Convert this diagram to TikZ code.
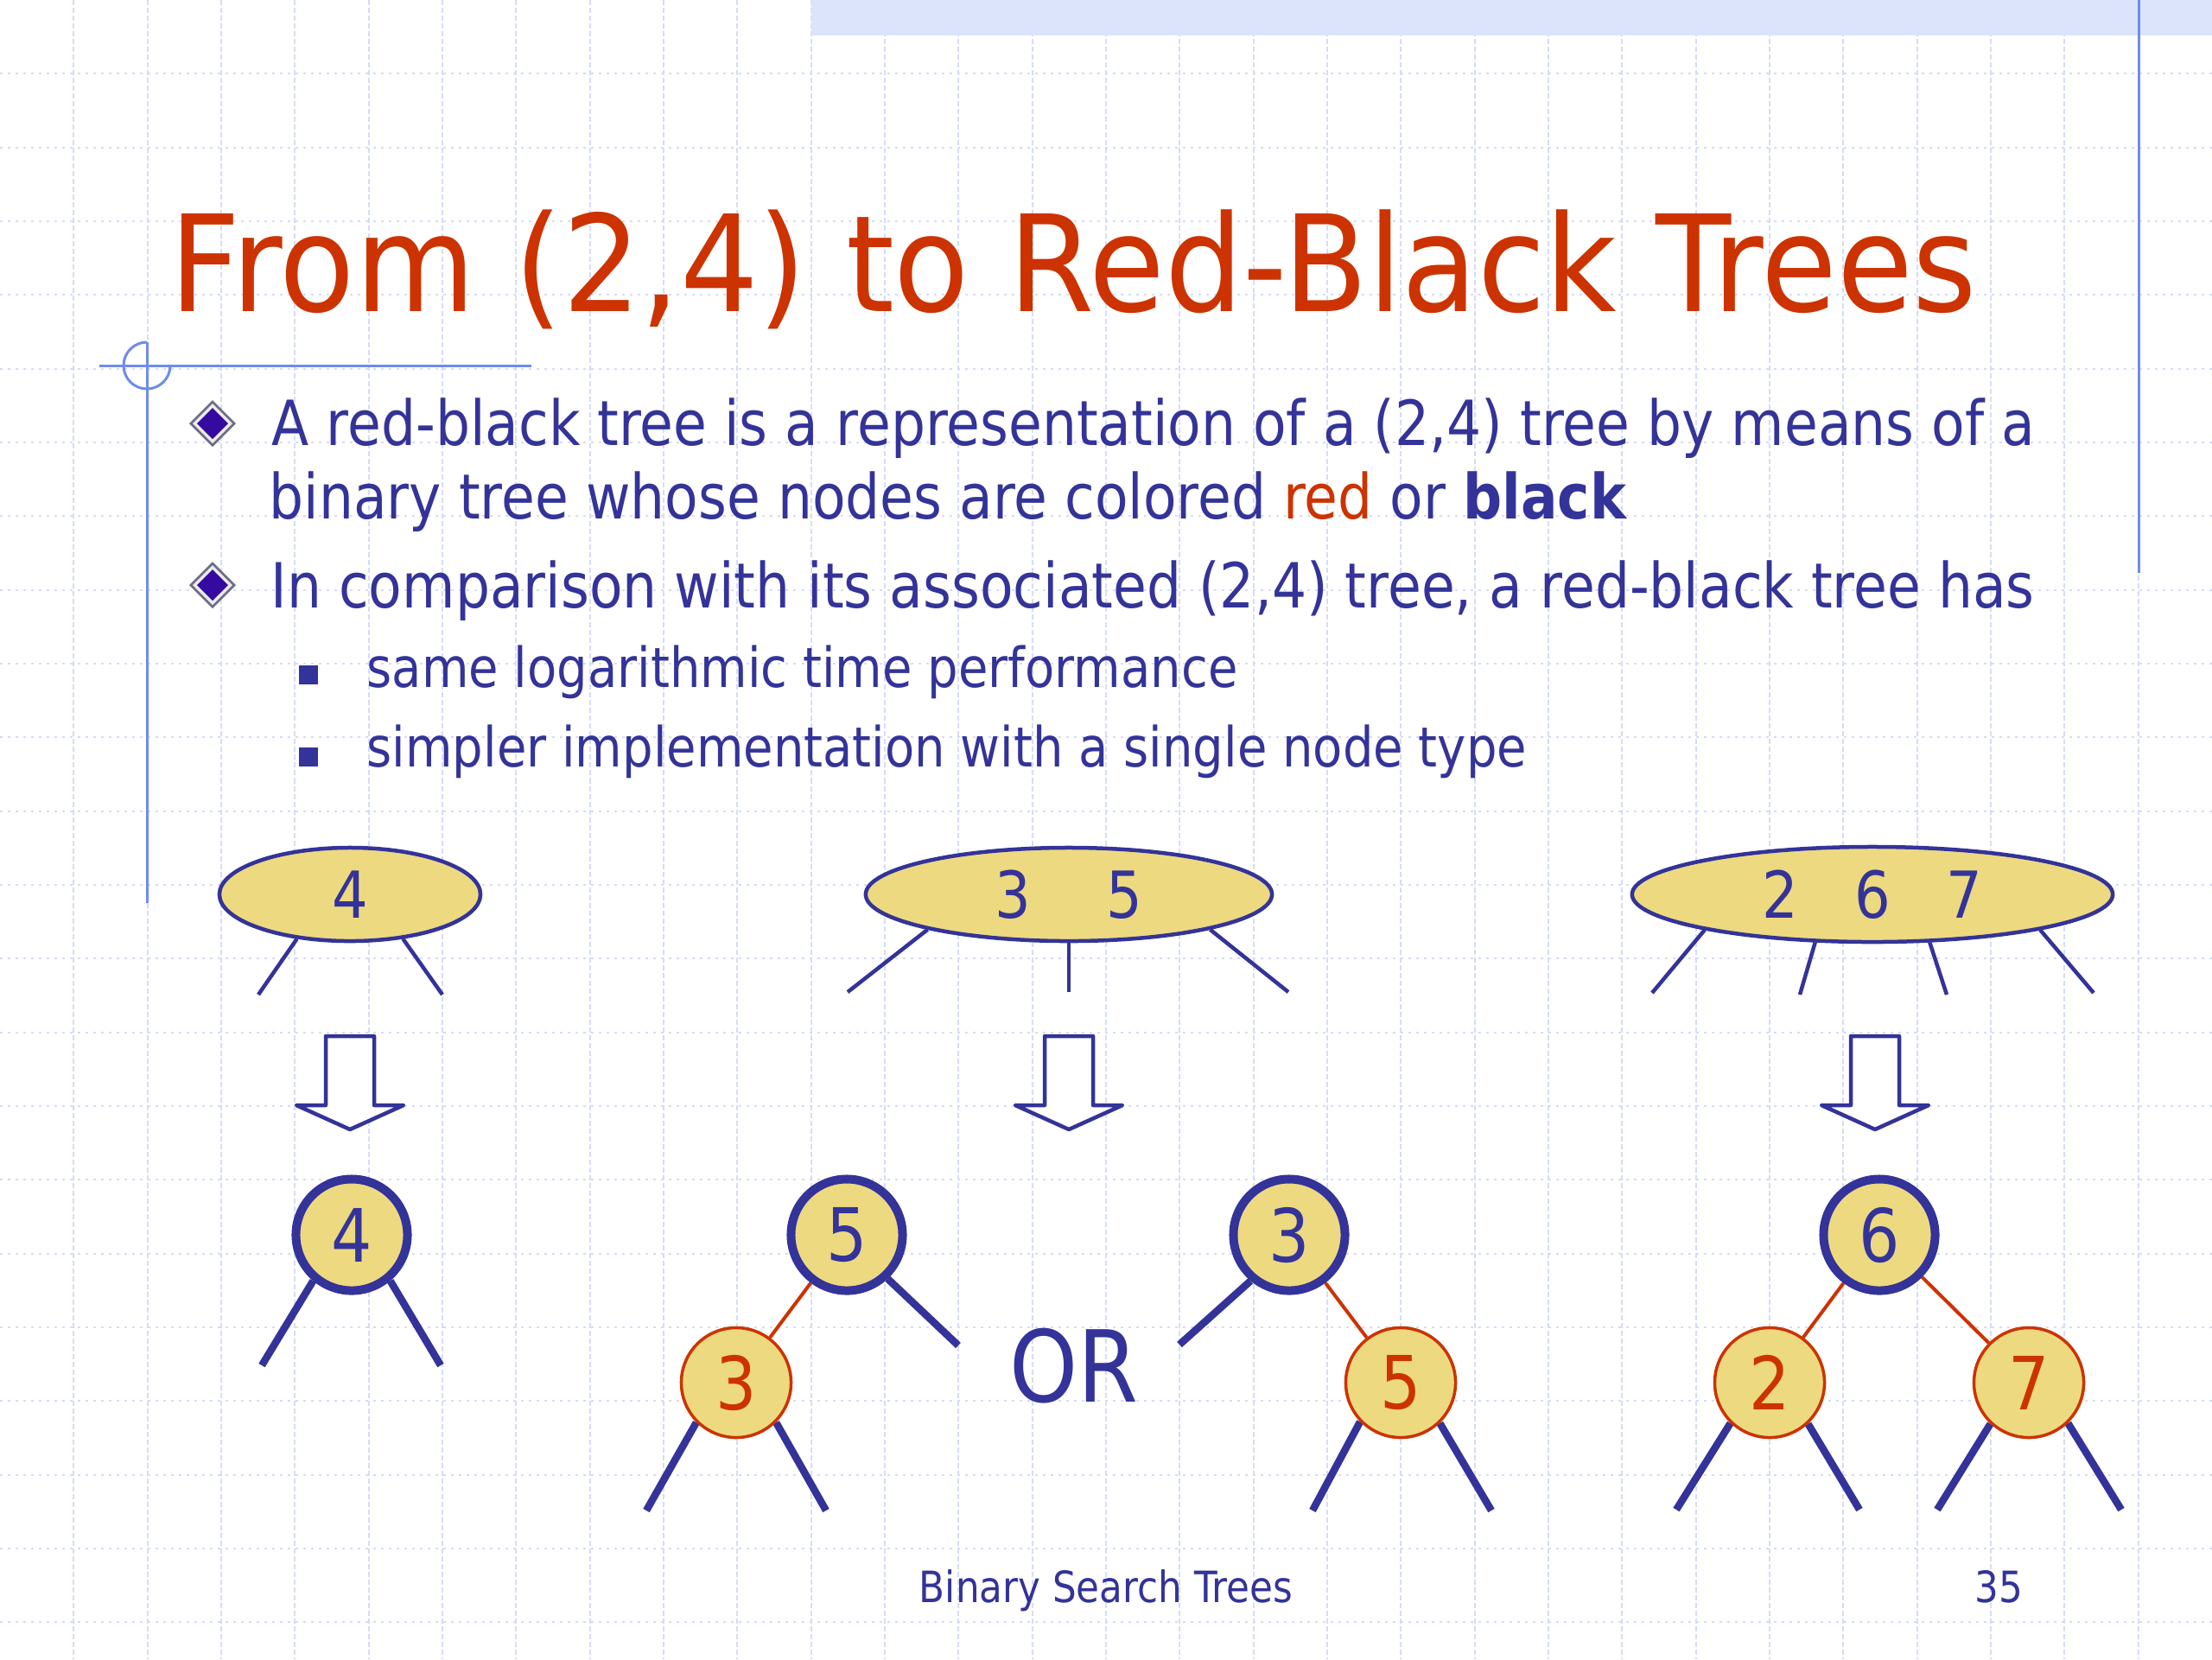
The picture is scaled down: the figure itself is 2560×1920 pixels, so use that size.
\documentclass[tikz,border=0pt]{standalone}
\usepackage{fontspec}
\setmainfont{DejaVu Sans}[FakeStretch=0.875]
\newfontfamily\titlefont{DejaVu Sans}[FakeStretch=0.92]
\usetikzlibrary{shapes.geometric}
\definecolor{rbblue}{RGB}{51,51,153}
\definecolor{rbred}{RGB}{204,51,0}
\definecolor{nodefill}{RGB}{237,217,128}
\definecolor{gridcol}{RGB}{214,220,247}
\definecolor{decoblue}{RGB}{110,140,235}
\definecolor{bandcol}{RGB}{220,228,251}
\definecolor{bulletpurple}{RGB}{52,10,160}
\pgfdeclarelayer{bg}\pgfdeclarelayer{edges}\pgfsetlayers{bg,edges,main}
\tikzset{
 bodytext/.style={anchor=base west, inner sep=0, text=rbblue, font=\fontsize{20.5pt}{24pt}\selectfont},
 subtext/.style={anchor=base west, inner sep=0, text=rbblue, font=\fontsize{18.2pt}{22pt}\selectfont},
 bnode/.style={circle, draw=rbblue, line width=0.1cm, fill=nodefill, minimum size=1.29cm, inner sep=0, text=rbblue, font=\fontsize{24.2pt}{28pt}\selectfont},
 rnode/.style={circle, draw=rbred, line width=0.035cm, fill=nodefill, minimum size=1.27cm, inner sep=0, text=rbred, font=\fontsize{24.2pt}{28pt}\selectfont},
 enode/.style={ellipse, draw=rbblue, line width=0.045cm, fill=nodefill, inner sep=0, minimum height=1.08cm, text=rbblue, font=\fontsize{21.3pt}{24pt}\selectfont},
 bleg/.style={draw=rbblue, line width=0.085cm},
 eleg/.style={draw=rbblue, line width=0.045cm},
 redge/.style={draw=rbred, line width=0.04cm},
 gridv/.style={gridcol, line width=0.02cm, dash pattern=on 0.06cm off 0.03cm},
 gridh/.style={gridcol, line width=0.02cm, dash pattern=on 0.03cm off 0.06cm},
 deco/.style={decoblue, line width=0.03cm},
 pics/downarrow/.style={code={
   \draw[rbblue, line width=0.045cm, fill=white, line join=round]
     (-28,0) -- (28,0) -- (28,80) -- (62,80) -- (0,108) -- (-62,80) -- (-28,80) -- cycle;}},
 pics/diabullet/.style={code={
   \fill[gray!75!rbblue] (0,-27) -- (27,0) -- (0,27) -- (-27,0) -- cycle;
   \fill[white!85!gray] (0,-23) -- (23,0) -- (0,23) -- (-23,0) -- cycle;
   \fill[bulletpurple] (0,-18) -- (18,0) -- (0,18) -- (-18,0) -- cycle;}}
}
\begin{document}
\begin{tikzpicture}[x=0.01cm,y=-0.01cm]
\useasboundingbox (0,0) rectangle (2560,1920);
\begin{pgfonlayer}{bg}
\fill[white] (0,0) rectangle (2560,1920);
\foreach \k in {1,...,29} \draw[gridv] ({\k*85.333},0) -- ({\k*85.333},1920);
\foreach \k in {1,...,22} \draw[gridh] (0,{\k*85.333}) -- (2560,{\k*85.333});
\fill[bandcol] (939,0) rectangle (2560,41);
\end{pgfonlayer}

% decorations
\draw[deco] (115,423) -- (615,423);
\draw[deco] (170,396) -- (170,1045);
\draw[deco] (170,396) arc[start angle=270, end angle=0, radius=27];
\draw[deco] (2475,0) -- (2475,663);

% title and text
\node[anchor=base west, inner sep=0, text=rbred, font=\titlefont\fontsize{44.1pt}{50pt}\selectfont] (title) at (196,360) {From (2,4) to Red-Black Trees};
\pic at (246,490) {diabullet};
\pic at (246,677) {diabullet};
\node[bodytext] (b1a) at (314,515) {A red-black tree is a representation of a (2,4) tree by means of a};
\node[bodytext] (b1b) at (311,600) {binary tree whose nodes are colored \textcolor{rbred}{red} or \textbf{black}};
\node[bodytext] (b2) at (313,703) {In comparison with its associated (2,4) tree, a red-black tree has};
\fill[rbblue] (346,770) rectangle (368,792);
\fill[rbblue] (346,865) rectangle (368,887);
\node[subtext] (s1) at (424,795) {same logarithmic time performance};
\node[subtext] (s2) at (424,887) {simpler implementation with a single node type};

% (2,4) nodes
\node[enode, minimum width=3.02cm] (e4) at (405,1035) {4};
\node[enode, minimum width=4.7cm] (e35) at (1237,1035) {3\hspace{0.875cm}5};
\node[enode, minimum width=5.56cm, minimum height=1.1cm] (e267) at (2167,1035) {2\hspace{0.65cm}6\hspace{0.65cm}7};
\coordinate (e4l) at (299,1151);
\coordinate (e4r) at (512,1151);
\coordinate (e35l) at (981,1148);
\coordinate (e35m) at (1237,1148);
\coordinate (e35r) at (1491,1148);
\coordinate (e267a) at (1912,1149);
\coordinate (e267b) at (2083,1151);
\coordinate (e267c) at (2253,1151);
\coordinate (e267d) at (2423,1149);

% arrows
\pic at (405,1199) {downarrow};
\pic at (1237,1199) {downarrow};
\pic at (2170,1199) {downarrow};

% red-black nodes
\node[bnode] (b4) at (407,1429) {4};
\node[bnode] (b5) at (980,1429) {5};
\node[rnode] (r3) at (852,1600) {3};
\node[bnode] (b3) at (1492,1429) {3};
\node[rnode] (r5) at (1621,1600) {5};
\node[bnode] (b6) at (2175,1429) {6};
\node[rnode] (r2) at (2048,1600) {2};
\node[rnode] (r7) at (2348,1600) {7};
\node[anchor=base, inner sep=0, text=rbblue, font=\fontsize{32.7pt}{36pt}\selectfont] (or) at (1243,1622) {OR};

\coordinate (b4l) at (303,1580);
\coordinate (b4r) at (510,1580);
\coordinate (b5r) at (1109,1557);
\coordinate (r3l) at (748,1748);
\coordinate (r3r) at (956,1748);
\coordinate (b3l) at (1365,1556);
\coordinate (r5l) at (1519,1748);
\coordinate (r5r) at (1726,1748);
\coordinate (r2l) at (1940,1747);
\coordinate (r2r) at (2152,1747);
\coordinate (r7l) at (2242,1747);
\coordinate (r7r) at (2455,1747);

\begin{pgfonlayer}{edges}
\draw[eleg] (e4.220) -- (e4l);
\draw[eleg] (e4.320) -- (e4r);
\draw[eleg] (e35.194) -- (e35l);
\draw[eleg] (e35.270) -- (e35m);
\draw[eleg] (e35.346) -- (e35r);
\draw[eleg] (e267.192) -- (e267a);
\draw[eleg] (e267.220) -- (e267b);
\draw[eleg] (e267.320) -- (e267c);
\draw[eleg] (e267.348) -- (e267d);
\draw[bleg] (b4.230) -- (b4l);
\draw[bleg] (b4.310) -- (b4r);
\draw[bleg] (b5.313) -- (b5r);
\draw[bleg] (r3.225) -- (r3l);
\draw[bleg] (r3.315) -- (r3r);
\draw[bleg] (b3.230) -- (b3l);
\draw[bleg] (r5.224) -- (r5l);
\draw[bleg] (r5.314) -- (r5r);
\draw[bleg] (r2.226) -- (r2l);
\draw[bleg] (r2.313) -- (r2r);
\draw[bleg] (r7.227) -- (r7l);
\draw[bleg] (r7.314) -- (r7r);
\draw[redge] (b5) -- (r3);
\draw[redge] (b3) -- (r5);
\draw[redge] (b6) -- (r2);
\draw[redge] (b6) -- (r7);
\end{pgfonlayer}

% footer
\node[anchor=base, inner sep=0, text=rbblue, font=\fontsize{14.2pt}{16pt}\selectfont] (foot) at (1280,1854) {Binary Search Trees};
\node[anchor=base east, inner sep=0, text=rbblue, font=\fontsize{14.2pt}{16pt}\selectfont] (page) at (2342,1854) {35};
\end{tikzpicture}
\end{document}
